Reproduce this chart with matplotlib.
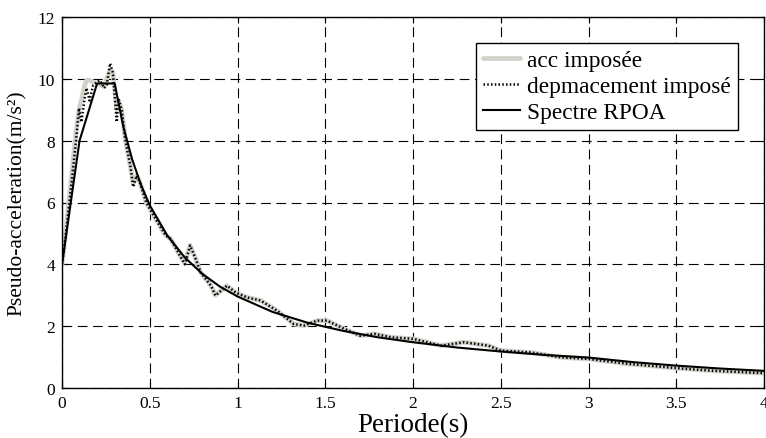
import matplotlib
matplotlib.use("Agg")
import matplotlib.pyplot as plt

plt.rcParams['font.family'] = ['Liberation Serif', 'DejaVu Serif']
plt.rcParams['lines.scale_dashes'] = False

# Response spectrum (displacement imposed)
T_dep = [0, 0.02, 0.05, 0.08, 0.097, 0.11, 0.13, 0.14, 0.157, 0.177, 0.2, 0.217, 0.24, 0.255,
         0.274, 0.29, 0.312, 0.322, 0.34, 0.36, 0.389, 0.406, 0.425, 0.444, 0.48, 0.52, 0.59,
         0.62, 0.67, 0.70, 0.73, 0.76, 0.79, 0.85, 0.874, 0.94, 0.989, 1.055, 1.131, 1.226,
         1.32, 1.38, 1.455, 1.51, 1.61, 1.70, 1.78, 1.874, 2.0, 2.16, 2.29, 2.43, 2.5, 2.67,
         2.846, 3.0, 3.226, 3.51, 3.70, 4.0]
Sa_dep = [4.0, 4.9, 6.4, 8.0, 9.05, 8.6, 9.4, 9.7, 9.3, 9.78, 9.9, 9.95, 9.7, 9.8,
          10.5, 10.2, 8.6, 9.35, 9.0, 8.05, 7.2, 6.5, 6.87, 6.65, 6.0, 5.6, 4.94,
          4.82, 4.3, 4.0, 4.61, 4.2, 3.74, 3.3, 2.99, 3.31, 3.09, 2.93, 2.83, 2.5,
          2.07, 2.02, 2.18, 2.18, 1.91, 1.69, 1.75, 1.64, 1.59, 1.37, 1.48, 1.37, 1.21, 1.15,
          0.99, 0.94, 0.78, 0.64, 0.56, 0.48]

# Response spectrum (acceleration imposed)
T_acc = T_dep
Sa_acc = [4.0, 5.0, 6.6, 8.3, 9.0, 9.3, 9.8, 9.95, 9.95, 9.9, 9.85, 9.8, 9.75, 10.0,
          10.3, 10.2, 9.0, 9.3, 9.0, 8.05, 7.2, 6.6, 6.87, 6.65, 6.0, 5.6, 4.94,
          4.82, 4.3, 4.05, 4.61, 4.2, 3.74, 3.3, 3.0, 3.31, 3.09, 2.93, 2.83, 2.5,
          2.07, 2.02, 2.18, 2.18, 1.91, 1.69, 1.75, 1.64, 1.59, 1.37, 1.48, 1.37, 1.21, 1.15,
          0.99, 0.94, 0.78, 0.64, 0.56, 0.48]

# RPOA design spectrum
T_rpoa = [0, 0.1, 0.2, 0.3, 0.35, 0.4, 0.45, 0.5, 0.6, 0.7, 0.8, 0.9, 1.0, 1.2, 1.4, 1.6,
          1.8, 2.0, 2.25, 2.5, 2.75, 3.0, 3.25, 3.5, 3.75, 4.0]
Sa_rpoa = [4.0, 8.0, 9.85, 9.85, 8.44, 7.39, 6.57, 5.91, 4.93, 4.22, 3.69, 3.28, 2.96, 2.46,
           2.11, 1.85, 1.64, 1.48, 1.31, 1.18, 1.07, 0.985, 0.839, 0.724, 0.630, 0.554]

labels = ['acc imposée', 'depmacement imposé', 'Spectre RPOA']
xticks = [0, 0.5, 1, 1.5, 2, 2.5, 3, 3.5, 4]
xticklabels = ['0', '0.5', '1', '1.5', '2', '2.5', '3', '3.5', '4']
yticks = [0, 2, 4, 6, 8, 10, 12]

W, H = 766, 439
fig = plt.figure(figsize=(W / 100, H / 100), dpi=100)
ax = fig.add_axes([62 / W, 1 - 389 / H, 702 / W, 371 / H])

ax.plot(T_acc, Sa_acc, color='#d3d1ca', lw=3.4, label=labels[0], solid_capstyle='round')
ax.plot(T_dep, Sa_dep, color='black', lw=1.8, linestyle=(0, (1.1, 1.6)), label=labels[1])
ax.plot(T_rpoa, Sa_rpoa, color='black', lw=1.5, label=labels[2])

ax.set_xlim(0, 4)
ax.set_ylim(0, 12)
ax.set_xticks(xticks)
ax.set_xticklabels(xticklabels)
ax.set_yticks(yticks)
ax.grid(True, color='black', lw=0.8, linestyle=(0, (7, 4)))
ax.tick_params(direction='in', length=4, width=0.8, labelsize=12.5, pad=5,
               top=True, right=True)
for s in ax.spines.values():
    s.set_linewidth(1.0)

ax.set_xlabel('Periode(s)', fontsize=19.5, labelpad=1)
ax.set_ylabel('Pseudo-acceleration(m/s²)', fontsize=15.5, labelpad=8)

leg = ax.legend(loc='upper right', bbox_to_anchor=(738 / W, 1 - 44 / H),
                bbox_transform=fig.transFigure, borderaxespad=0, fontsize=16.8,
                fancybox=False, framealpha=1, edgecolor='black', handlelength=1.6,
                handletextpad=0.3, labelspacing=0.2, borderpad=0.3)
leg.get_frame().set_linewidth(1.0)

fig.savefig('out.png', dpi=100)
